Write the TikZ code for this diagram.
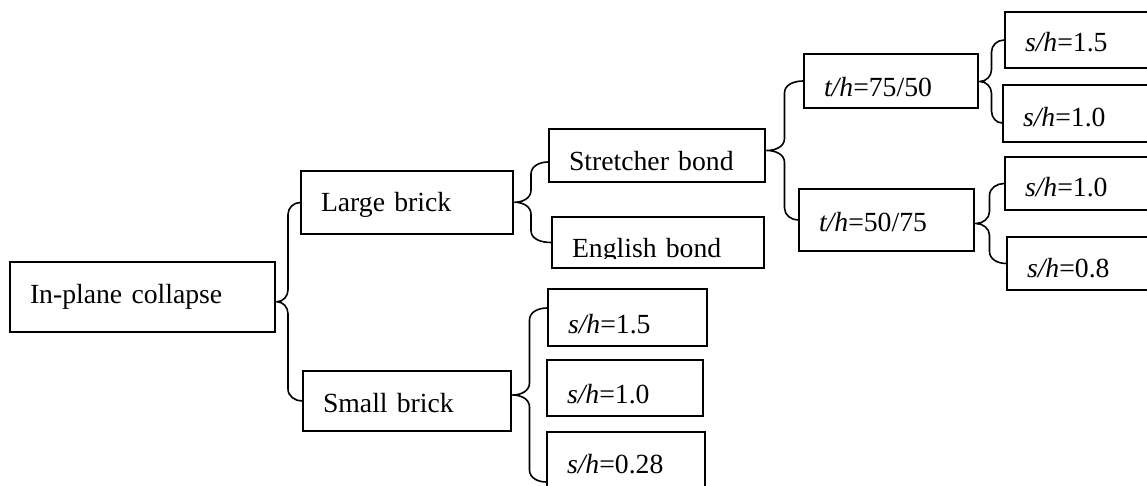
\documentclass[tikz,border=0pt]{standalone}
\usepackage{fontspec}
\setmainfont{Liberation Serif}
\usetikzlibrary{calc}

\tikzset{
  box/.style={draw, rectangle, line width=1.6pt, inner xsep=20pt, inner ysep=0pt,
    align=left, text height=28pt, text depth=0pt, font=\fontsize{27.7}{33}\selectfont},
  brace/.style={line width=1.6pt, line join=round}
}

% box: [options]{name}{left}{top}{right}{bottom}{text}
\newcommand{\tbox}[7][]{%
  \pgfmathsetmacro{\tbw}{#5-#3-40}%
  \pgfmathsetmacro{\tbh}{#6-#4}%
  \node[box, text width=\tbw pt, minimum height=\tbh pt, #1] (#2) at ({(#3+#5)/2},{(#4+#6)/2}) {#7};}

% curly brace: {parent}{top end}{bottom end}
\newcommand{\brc}[3]{%
  \draw[brace] let \p1=(#1.east), \p2=(#2), \p3=(#3),
      \p4=($(#1.east)!0.5!(#2)$), \p5=($(#2)!0.5!(#3)$) in
    (\x2,\y2) to[out=180,in=90] (\x4,\y2-12pt) -- (\x4,\y5+12pt)
    to[out=-90,in=0] (\x1+1pt,\y5) to[out=0,in=90] (\x4,\y5-12pt)
    -- (\x4,\y3+12pt) to[out=-90,in=180] (\x3,\y3);}

\newcommand{\sratio}{\textit{s/h}}
\newcommand{\tratio}{\textit{t/h}}

\begin{document}
\begin{tikzpicture}[x=1pt, y=-1pt]
  \useasboundingbox (0,0) rectangle (1147,486);

  \tbox[text height=14pt, text depth=2pt]{collapse}{10}{262}{275}{332}{In-plane collapse}
  \tbox[text height=19pt]{large}{301}{171}{513}{234}{Large brick}
  \tbox[text height=22pt]{small}{303}{371}{511}{431}{Small brick}

  \tbox[text height=31pt]{stretcher}{549}{129}{765}{182}{Stretcher bond}
  % text of this box is cut off at its baseline
  \begin{scope}[even odd rule]
    \clip (540,200) rectangle (780,280) (556,258.5) rectangle (760,266);
    \tbox[text height=31pt]{english}{552}{217}{764}{268}{English bond}
  \end{scope}

  \tbox[text height=31pt]{sha}{548}{289}{707}{346}{\sratio=1.5}
  \tbox[text height=30pt]{shb}{547}{360}{703}{416}{\sratio=1.0}
  \tbox[text height=25pt]{shc}{547}{432}{705}{489}{\sratio=0.28}

  \tbox[text height=32pt]{tha}{804}{54}{978}{108}{\tratio=75/50}
  \tbox[text height=24pt]{thb}{799}{189}{974}{251}{\tratio=50/75}

  \tbox[text height=24pt]{shd}{1005}{12}{1170}{68}{\sratio=1.5}
  \tbox[text height=27pt]{she}{1003}{85}{1170}{142}{\sratio=1.0}
  \tbox[text height=27pt]{shf}{1005}{157}{1170}{210}{\sratio=1.0}
  \tbox[text height=27pt]{shg}{1007}{237}{1170}{290}{\sratio=0.8}

  \brc{collapse}{large.west}{small.west}
  \brc{large}{[yshift=-6.5pt]stretcher.west}{english.west}
  \brc{small}{[yshift=9.5pt]sha.west}{[yshift=-21.5pt]shc.west}
  \brc{stretcher}{tha.west}{thb.west}
  \brc{tha}{shd.west}{[yshift=-9.5pt]she.west}
  \brc{thb}{shf.west}{shg.west}
\end{tikzpicture}
\end{document}
